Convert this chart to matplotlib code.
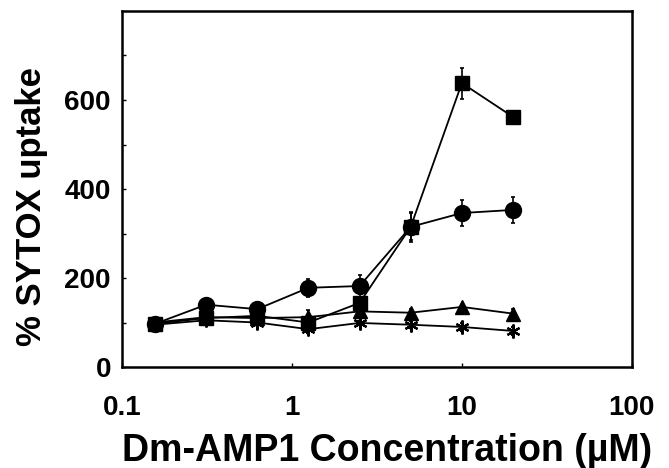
import matplotlib
matplotlib.use("Agg")
import matplotlib.pyplot as plt
import numpy as np

plt.rcParams['font.family'] = ['Liberation Sans', 'DejaVu Sans']

conc = [0.156, 0.3125, 0.625, 1.25, 2.5, 5, 10, 20]
square = [97, 110, 115, 100, 144, 315, 638, 562]
square_err = [0, 0, 0, 0, 10, 30, 35, 0]
circle = [97, 140, 130, 178, 182, 315, 346, 353]
circle_err = [0, 10, 8, 20, 25, 34, 30, 30]
triangle = [100, 112, 110, 112, 125, 122, 135, 120]
triangle_err = [0, 5, 5, 15, 5, 8, 5, 10]
star = [95, 105, 100, 85, 99, 95, 90, 81]
star_err = [0, 5, 5, 8, 5, 8, 8, 8]

yticks = [0, 200, 400, 600]
xticks = [0.1, 1, 10, 100]
xticklabels = ['0.1', '1', '10', '100']

fig = plt.figure(figsize=(6.69, 4.68), dpi=100)
ax = fig.add_axes([0.1824, 0.2158, 0.762, 0.7607])

asterisk = (6, 2, 0)
common = dict(color='black', lw=1.3, capsize=1.5, elinewidth=1.2, capthick=1.2)
ax.errorbar(conc, star, yerr=star_err, marker=asterisk, ms=10, mew=1.6, **common)
ax.errorbar(conc, triangle, yerr=triangle_err, marker='^', ms=10, **common)
ax.errorbar(conc, square, yerr=square_err, marker='s', ms=10.5, **common)
ax.errorbar(conc, circle, yerr=circle_err, marker='o', ms=11.5, **common)

ax.set_xscale('log')
ax.set_xlim(0.1, 100)
ax.set_ylim(0, 800)
ax.set_xticks(xticks)
ax.set_xticklabels(xticklabels)
ax.xaxis.set_minor_locator(matplotlib.ticker.NullLocator())
ax.set_yticks(yticks)
ax.set_yticks([100, 300, 500, 700], minor=True)

for s in ax.spines.values():
    s.set_linewidth(1.8)

ax.tick_params(axis='x', which='major', direction='in', length=3, width=1, pad=20, labelsize=20)
ax.tick_params(axis='y', which='both', direction='in', length=3, width=1, pad=8, labelsize=20)
for lab in ax.get_xticklabels() + ax.get_yticklabels():
    lab.set_fontweight('bold')

ax.set_xlabel('Dm-AMP1 Concentration (µM)', fontsize=27, fontweight='bold')
ax.set_ylabel('% SYTOX uptake', fontsize=25, fontweight='bold')
ax.xaxis.set_label_coords(0.52, -0.185)
ax.yaxis.set_label_coords(-0.145, 0.45)

fig.savefig('out.png', dpi=100)
